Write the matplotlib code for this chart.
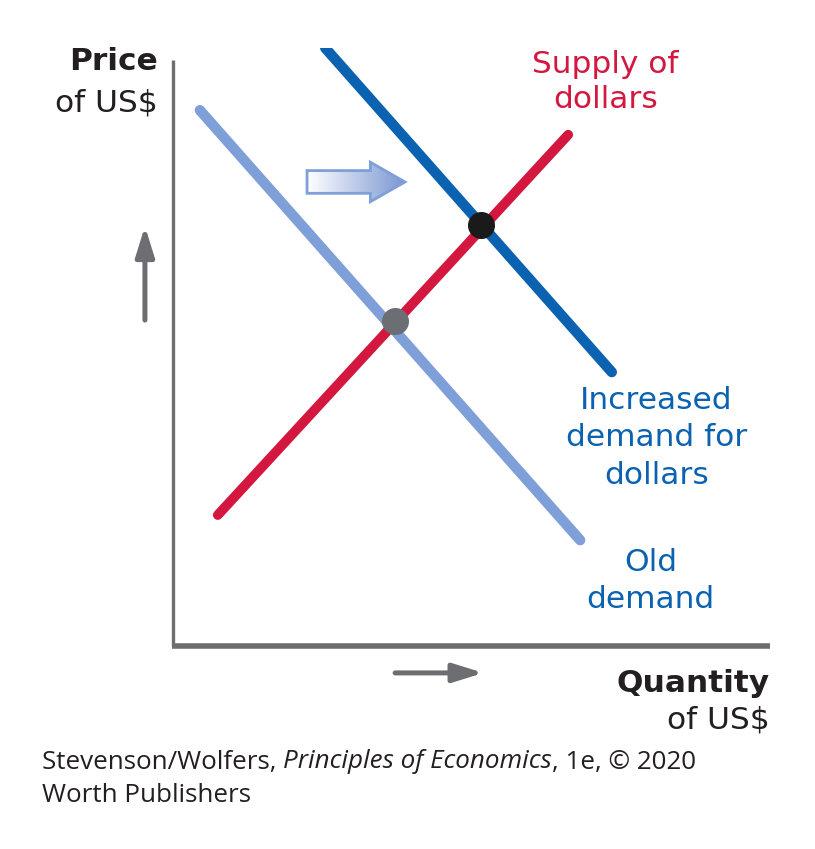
import numpy as np
import matplotlib
matplotlib.use("Agg")
import matplotlib.pyplot as plt
from matplotlib.patches import FancyArrow
from matplotlib.colors import LinearSegmentedColormap

# ---- data (conceptual units: quantity 0-10, price 0-10) ----
old_demand_x = [0.45, 6.82]
old_demand_y = [8.96, 1.77]
new_demand_x = [2.55, 7.35]
new_demand_y = [10.0, 4.58]
supply_x = [0.75, 6.62]
supply_y = [2.19, 8.55]
old_eq = (3.72, 5.43)
new_eq = (5.16, 7.04)
shift_arrow = (2.245, 3.886, 7.76)   # x start, x end, y

supply_label = "Supply of\ndollars"
new_demand_label = "Increased\ndemand for\ndollars"
old_demand_label = "Old\ndemand"
y_label = ("Price", "of US$")
x_label = ("Quantity", "of US$")
credit_line1 = ["Stevenson/Wolfers, ", "Principles of Economics", ", 1e, © 2020"]
credit_line2 = "Worth Publishers"

DARK_BLUE = "#0a62b0"
LIGHT_BLUE = "#7f9fd8"
RED = "#d3173f"
GREY = "#6d6e71"
INK = "#231f20"

W, H = 815, 849
fig = plt.figure(figsize=(W / 100, H / 100), dpi=100)
ax = fig.add_axes([173 / W, (849 - 646) / H, 597 / W, 598 / H])
ax.set_xlim(0, 10)
ax.set_ylim(0, 10)
ax.axis("off")

# axes lines
ax.plot([0, 0], [0, 9.8], color=GREY, lw=2.4, solid_capstyle="butt", clip_on=False)
ax.plot([-0.02, 10], [0, 0], color=GREY, lw=4, solid_capstyle="butt", clip_on=False)

# curves
ax.plot(old_demand_x, old_demand_y, color=LIGHT_BLUE, lw=7.5, solid_capstyle="round", zorder=2)
ax.plot(supply_x, supply_y, color=RED, lw=7, solid_capstyle="round", zorder=3)
ax.plot(new_demand_x, new_demand_y, color=DARK_BLUE, lw=7.5, solid_capstyle="round", zorder=4)

# equilibrium dots
ax.scatter([old_eq[0]], [old_eq[1]], s=340, color="#6b6e72", zorder=6)
ax.scatter([new_eq[0]], [new_eq[1]], s=340, color="#1a1a1a", zorder=6)

# gradient shift arrow
x0, x1, yc = shift_arrow
arr = FancyArrow(x0, yc, x1 - x0, 0, width=0.38, head_width=0.66, head_length=0.58,
                 length_includes_head=True, facecolor="none", edgecolor=LIGHT_BLUE,
                 lw=2, zorder=5)
ax.add_patch(arr)
grad = np.linspace(0, 1, 256).reshape(1, -1)
cmap = LinearSegmentedColormap.from_list("g", ["#ffffff", "#7b97d2"])
im = ax.imshow(grad, extent=[x0, x1, yc - 0.4, yc + 0.4], cmap=cmap, aspect="auto", zorder=4)
im.set_clip_path(arr)

# direction arrows outside the axes
aprops = dict(arrowstyle="-|>,head_length=0.9,head_width=0.28", color=GREY, lw=3.6,
              mutation_scale=20, shrinkA=0, shrinkB=0)
ax.annotate("", xy=(-0.47, 7.02), xytext=(-0.47, 5.45), arrowprops=aprops,
            annotation_clip=False)
ax.annotate("", xy=(5.2, -0.45), xytext=(3.72, -0.45), arrowprops=aprops,
            annotation_clip=False)

# labels
hand = dict(family="DejaVu Sans", fontsize=22.5)
ax.text(-0.25, 9.77, y_label[0], ha="right", va="center", color=INK, fontweight="bold", **hand)
ax.text(-0.25, 9.08, y_label[1], ha="right", va="center", color=INK, **hand)
ax.text(10.0, -0.62, x_label[0], ha="right", va="center", color=INK, fontweight="bold",
        clip_on=False, **hand)
ax.text(10.0, -1.24, x_label[1], ha="right", va="center", color=INK, clip_on=False, **hand)

ax.text(7.24, 9.43, supply_label, ha="center", va="center", color=RED, linespacing=1.25, **hand)
ax.text(8.1, 3.48, new_demand_label, ha="center", va="center", color=DARK_BLUE, linespacing=1.36, **hand)
ax.text(8.0, 1.09, old_demand_label, ha="center", va="center", color=DARK_BLUE, linespacing=1.36, **hand)

# credit
fy1 = 1 - 762 / H
fy2 = 1 - 795 / H
cf = dict(family="Open Sans", fontsize=18.7, color=INK, va="center")
t = fig.text(42 / W, fy1, credit_line1[0], **cf)
fig.canvas.draw()
r = fig.canvas.get_renderer()
bb = t.get_window_extent(r)
t2 = fig.text(bb.x1 / W, fy1, credit_line1[1], style="italic", **cf)
bb2 = t2.get_window_extent(r)
fig.text(bb2.x1 / W, fy1, credit_line1[2], **cf)
fig.text(42 / W, fy2, credit_line2, **cf)

fig.savefig("out.png", dpi=100)
